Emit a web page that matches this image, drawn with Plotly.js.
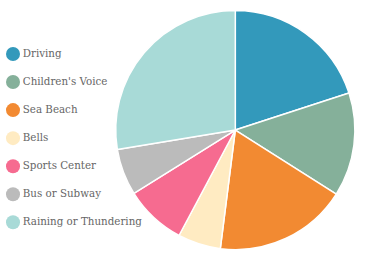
<!DOCTYPE html>
<html><head><meta charset="utf-8">
<script src="https://cdn.plot.ly/plotly-3.0.1.min.js"></script>
<style>html,body{margin:0;padding:0;background:#fff}#c{width:366px;height:261px}</style>
</head><body><div id="c"></div>
<script>
const categories = ["Driving","Children's Voice","Sea Beach","Bells","Sports Center","Bus or Subway","Raining or Thundering"];
const values = [20, 14, 18, 5.8, 8.3, 6.3, 27.6];
const colors = ["#3399BB","#85B09A","#F28A32","#FFEBC2","#F66B90","#BBBBBB","#A8DAD7"];

const pie = {
  type: 'pie', labels: categories, values: values, sort: false, direction: 'clockwise', rotation: 0,
  marker: {colors: colors, line: {color: '#ffffff', width: 1.5}},
  textinfo: 'none', hoverinfo: 'none', showlegend: false,
  domain: {x: [0.3161, 0.9697], y: [0.0437, 0.960]}
};
const legendMarks = {
  type: 'scatter', mode: 'markers+text', x: categories.map(() => 0), y: categories,
  marker: {size: 14, color: colors}, text: categories, textposition: 'middle right',
  textfont: {family: 'DejaVu Serif', size: 10.3, color: '#666666'},
  hoverinfo: 'none', showlegend: false, cliponaxis: false
};
const layout = {
  width: 366, height: 261, margin: {l: 0, r: 0, t: 0, b: 0},
  paper_bgcolor: '#ffffff', plot_bgcolor: 'rgba(0,0,0,0)', showlegend: false,
  xaxis: {visible: false, range: [-13, 353], domain: [0, 1], fixedrange: true},
  yaxis: {visible: false, type: 'category', range: [7.38, -1.925], domain: [0, 1], fixedrange: true}
};
Plotly.newPlot('c', [legendMarks, pie], layout, {displayModeBar: false, staticPlot: true});
</script></body></html>
